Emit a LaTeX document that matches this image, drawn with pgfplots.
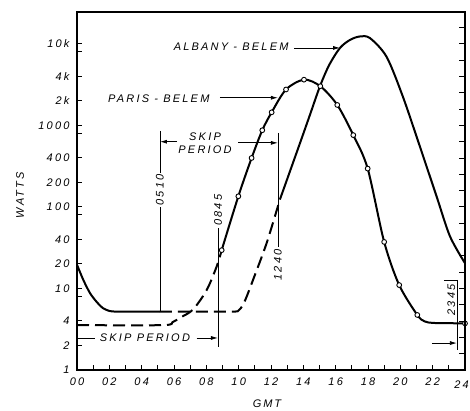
\documentclass[border=0pt]{standalone}
\usepackage{fontspec}
\setmainfont{Liberation Sans}[LetterSpace=20]
\usepackage{pgfplots}
\pgfplotsset{compat=1.18}
\usetikzlibrary{arrows.meta}

\begin{document}
\begin{tikzpicture}[font=\fontsize{11}{13}\selectfont\itshape]
\useasboundingbox (-77pt,-41pt) rectangle (393pt,370pt);
\begin{axis}[name=main, at={(0pt,0pt)}, anchor=south west,
  scale only axis, width=388pt, height=358pt,
  xmin=0, xmax=24, ymode=log, ymin=1, ymax=24547,
  clip=false,
  axis line style={line width=1.5pt},
  tick align=inside, major tick length=5pt, minor tick length=5pt,
  every tick/.style={line width=0.9pt, black},
  xtick pos=bottom, ytick pos=left,
  xtick={0,2,...,24}, minor xtick={1,3,...,23},
  xticklabels={00,02,04,06,08,10,12,14,16,18,20,22,},
  xticklabel style={yshift=-12pt, anchor=center},
  ytick={1,2,4,8,10,20,40,80,100,200,400,800,1000,2000,4000,8000,10000},
  yticklabels={1,2,4,,10,20,40,,100,200,400,,1000,2k,4k,,10k},
  minor ytick={},
  yticklabel style={xshift=-4pt},
]
\draw[line width=1.5pt] (rel axis cs:0,0) rectangle (rel axis cs:1,1);
% Paris - Belem, skip period (dashed)
\addplot[line width=2pt, dash pattern=on 12pt off 6pt, smooth, tension=0.5] coordinates {
(0,3.55) (5.3,3.55) (5.9,3.85) (6.37,4.37) (7.17,5.5) (8.02,9.55) (8.64,18.6) (8.95,29.5)};
% Paris - Belem
\addplot[line width=2pt, smooth, tension=0.5] coordinates {
(8.95,29.5) (9.98,135) (10.80,398) (11.46,871) (12.04,1445) (12.93,2754) (14.04,3631)
(15.05,3020) (16.10,1778) (17.09,759) (17.98,295) (19.0,37.2) (19.93,11.0) (21.05,4.73)
(21.5,3.95) (22.0,3.78) (23.0,3.75) (24,3.73)};
\addplot[only marks, mark=*, mark size=2.4pt, mark options={fill=white, draw=black, line width=0.9pt}] coordinates {
(8.95,29.5) (9.98,135) (10.80,398) (11.46,871) (12.04,1445) (12.93,2754) (14.04,3631)
(15.05,3020) (16.10,1778) (17.09,759) (17.98,295) (19.0,37.2) (19.93,11.0) (21.05,4.73) (24,3.73)};
% Albany - Belem
\addplot[line width=2pt, smooth, tension=0.5] coordinates {
(0,19.5) (0.4,12.6) (0.8,8.8) (1.2,6.9) (1.6,5.75) (2.0,5.3) (2.4,5.2) (3.0,5.2) (5.13,5.2)};
\addplot[line width=2pt, dash pattern=on 12pt off 6pt, smooth, tension=0.5] coordinates {
(5.13,5.2) (7.5,5.2) (9.7,5.2) (10.0,5.4) (10.25,6.2) (10.49,7.9) (10.88,12.6) (11.73,36) (12.55,123)};
\addplot[line width=2pt, smooth, tension=0.5] coordinates {
(12.55,123) (13.79,603) (14.4,1330) (15.03,3020) (15.6,5500) (16.27,8910) (16.9,11200)
(17.5,12300) (18.12,11750) (19.15,6920) (20.16,2240) (21.21,550) (22.24,135) (23.07,43.6) (24,20.4)};

% annotations
\node[anchor=east] at (axis cs:13.3,9200) {ALBANY - BELEM};
\draw[line width=0.8pt, -{Latex[length=7pt,width=4pt]}] (axis cs:13.45,8900) -- (axis cs:16.27,8900);
\node[anchor=east] at (axis cs:8.41,2115) {PARIS - BELEM};
\draw[line width=0.8pt, -{Latex[length=7pt,width=4pt]}] (axis cs:8.84,2180) -- (axis cs:12.43,2180);
\node[align=center] at (axis cs:7.92,610) {SKIP\\PERIOD};
\draw[line width=0.8pt, -{Latex[length=7pt,width=4pt]}] (axis cs:6.2,630) -- (axis cs:5.13,630);
\draw[line width=0.8pt, -{Latex[length=7pt,width=4pt]}] (axis cs:9.96,610) -- (axis cs:12.43,610);
\draw[line width=0.8pt] (axis cs:5.13,855) -- (axis cs:5.13,5.2);
\node[rotate=90, fill=white, inner sep=1.5pt] at (axis cs:5.13,162) {0510};
\draw[line width=0.8pt] (axis cs:12.43,810) -- (axis cs:12.43,32);
\node[rotate=90, anchor=east, inner sep=2pt] at (axis cs:12.43,32) {1240};
\draw[line width=0.8pt] (axis cs:8.72,55) -- (axis cs:8.72,1.92);
\node[rotate=90, anchor=west, inner sep=2pt] at (axis cs:8.72,55) {0845};
\draw[line width=0.8pt] (axis cs:0,2.47) -- (axis cs:1.1,2.47);
\node at (axis cs:4.2,2.47) {SKIP PERIOD};
\draw[line width=0.8pt, -{Latex[length=7pt,width=4pt]}] (axis cs:7.4,2.47) -- (axis cs:8.72,2.47);
\draw[line width=0.8pt] (axis cs:23.5,12.7) -- (axis cs:23.5,1.76);
\draw[line width=0.8pt] (axis cs:22.7,12.7) -- (axis cs:23.5,12.7);
\node[rotate=90, anchor=south, inner sep=1.5pt] at (axis cs:23.5,7.2) {2345};
\draw[line width=0.8pt, -{Latex[length=7pt,width=4pt]}] (axis cs:21.95,2.14) -- (axis cs:23.5,2.14);
\end{axis}
% right hand scale ticks
\begin{axis}[at={(0pt,0pt)}, anchor=south west,
  scale only axis, width=388pt, height=358pt,
  xmin=0, xmax=24, ymin=0, ymax=43.9,
  axis x line=none, axis y line*=right,
  axis line style={line width=1.5pt, -},
  ytick={2,4,...,42}, yticklabels={},
  tick align=inside, major tick length=6pt,
  every tick/.style={line width=0.9pt, black},
]
\end{axis}
\node[anchor=east, inner sep=0pt] at (392pt,-15pt) {24};
\node[rotate=90] at (-57pt,175pt) {WATTS};
\node[inner sep=0pt] at (190pt,-34pt) {G\,M\,T};
\end{tikzpicture}
\end{document}
